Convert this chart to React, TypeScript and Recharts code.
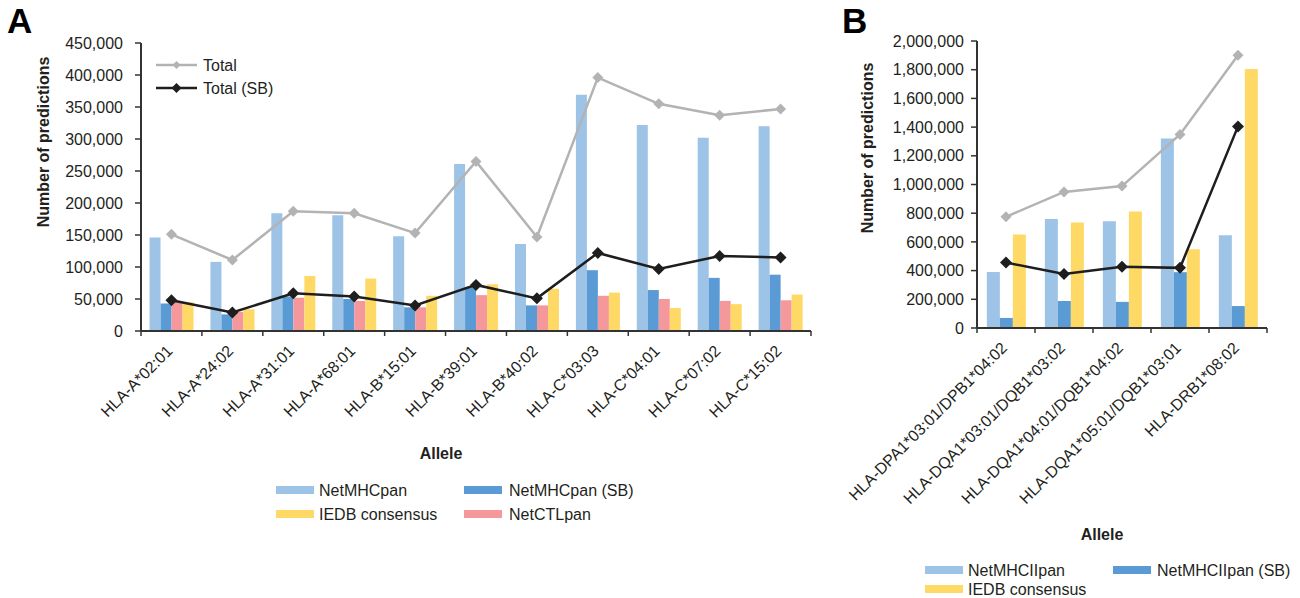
import React from 'react';
import { ComposedChart, Bar, Line, XAxis, YAxis, Legend, Label } from 'recharts';

// ---------- Panel A data ----------
const allelesA = ['HLA-A*02:01', 'HLA-A*24:02', 'HLA-A*31:01', 'HLA-A*68:01', 'HLA-B*15:01', 'HLA-B*39:01', 'HLA-B*40:02', 'HLA-C*03:03', 'HLA-C*04:01', 'HLA-C*07:02', 'HLA-C*15:02'];
const netMHCpanA = [146000, 108000, 184000, 181000, 148000, 261000, 136000, 369000, 322000, 302000, 320000];
const netMHCpanSBA = [43000, 26000, 54000, 50000, 37000, 69000, 40000, 95000, 64000, 83000, 88000];
const netCTLpanA = [46000, 30000, 52000, 47000, 37000, 56000, 40000, 55000, 50000, 47000, 48000];
const iedbA = [45000, 34000, 86000, 82000, 55000, 73000, 66000, 60000, 36000, 42000, 57000];
const totalA = [151000, 111000, 187000, 184000, 153000, 265000, 147000, 396000, 355000, 337000, 347000];
const totalSBA = [48000, 29000, 59000, 54000, 40000, 72000, 51000, 122000, 97000, 117000, 115000];
const yTicksA = [0, 50000, 100000, 150000, 200000, 250000, 300000, 350000, 400000, 450000];

// ---------- Panel B data ----------
const allelesB = ['HLA-DPA1*03:01/DPB1*04:02', 'HLA-DQA1*03:01/DQB1*03:02', 'HLA-DQA1*04:01/DQB1*04:02', 'HLA-DQA1*05:01/DQB1*03:01', 'HLA-DRB1*08:02'];
const netMHCIIpanB = [390000, 760000, 744000, 1320000, 647000];
const netMHCIIpanSBB = [70000, 188000, 182000, 389000, 153000];
const iedbB = [651000, 735000, 812000, 549000, 1805000];
const totalB = [775000, 948000, 989000, 1349000, 1900000];
const totalSBB = [456000, 377000, 426000, 419000, 1405000];
const yTicksB = [0, 200000, 400000, 600000, 800000, 1000000, 1200000, 1400000, 1600000, 1800000, 2000000];

const dataA = allelesA.map((a, i) => ({
  allele: a,
  netMHCpan: netMHCpanA[i],
  netMHCpanSB: netMHCpanSBA[i],
  netCTLpan: netCTLpanA[i],
  iedb: iedbA[i],
  total: totalA[i],
  totalSB: totalSBA[i],
}));

const dataB = allelesB.map((a, i) => ({
  allele: a,
  netMHCIIpan: netMHCIIpanB[i],
  netMHCIIpanSB: netMHCIIpanSBB[i],
  iedb: iedbB[i],
  total: totalB[i],
  totalSB: totalSBB[i],
}));

const FONT = '"Liberation Sans", Arial, Helvetica, sans-serif';
const TXT = '#231f20';
const C_LIGHT = '#9DC3E6';
const C_MID = '#5B9BD5';
const C_PINK = '#F4989C';
const C_YELLOW = '#FFD966';
const C_GREY = '#B3B3B3';
const C_BLACK = '#1E1E1E';
const AXIS = '#333333';

const fmt = (v: number) => v.toLocaleString('en-US');

const diamond = (r: number, fill: string) => (props: any) => {
  const { cx, cy, index } = props;
  if (cx == null || cy == null) return <g key={index} />;
  return (
    <polygon
      key={index}
      points={`${cx},${cy - r} ${cx + r},${cy} ${cx},${cy + r} ${cx - r},${cy}`}
      fill={fill}
    />
  );
};

const makeXTick = (band: number, n: number) => (props: any) => {
  const { x, y, payload, index } = props;
  const tx = x + 2;
  const ty = y + 21;
  return (
    <g>
      <line x1={x - band / 2} x2={x - band / 2} y1={y} y2={y + 5} stroke={AXIS} strokeWidth={1.5} />
      {index === n - 1 && (
        <line x1={x + band / 2} x2={x + band / 2} y1={y} y2={y + 5} stroke={AXIS} strokeWidth={1.5} />
      )}
      <text
        x={tx}
        y={ty}
        textAnchor="end"
        transform={`rotate(-45, ${tx}, ${ty})`}
        fontSize={16}
        fontFamily={FONT}
        fill={TXT}
      >
        {payload.value}
      </text>
    </g>
  );
};

const yTickStyle = { fontSize: 16, fontFamily: FONT, fill: TXT };

const axisTitle = (dx: number, dy: number, rotate: boolean) => (props: any) => {
  const vb = props.viewBox || {};
  const cx = (vb.x || 0) + dx;
  const cy = (vb.y || 0) + dy;
  return (
    <text
      x={cx}
      y={cy}
      textAnchor="middle"
      dominantBaseline="central"
      transform={rotate ? `rotate(-90, ${cx}, ${cy})` : undefined}
      fontSize={16}
      fontWeight="bold"
      fontFamily={FONT}
      fill={TXT}
    >
      {props.value}
    </text>
  );
};

type Item = { label: string; color: string; x: number; tx: number; y: number };

const barLegendItems = (items: Item[]) =>
  items.map((it) => (
    <g key={it.label}>
      <rect x={it.x} y={it.y - 4} width={38} height={8} fill={it.color} />
      <text x={it.tx} y={it.y} dominantBaseline="central" fontSize={16} fontFamily={FONT} fill={TXT}>
        {it.label}
      </text>
    </g>
  ));

const legendWrapper = { left: 0, top: 0, right: 'auto', bottom: 'auto', width: 0, height: 0, overflow: 'visible' } as any;

const LegendA = () => (
  <svg width={1} height={1} style={{ position: 'absolute', left: 0, top: 0, overflow: 'visible' }}>
    <line x1={156} x2={197} y1={65} y2={65} stroke={C_GREY} strokeWidth={2.5} />
    <polygon points="176.5,61 180.5,65 176.5,69 172.5,65" fill={C_GREY} />
    <text x={203} y={65} dominantBaseline="central" fontSize={16} fontFamily={FONT} fill={TXT}>Total</text>
    <line x1={156} x2={197} y1={88} y2={88} stroke={C_BLACK} strokeWidth={2.5} />
    <polygon points="176.5,83 181.5,88 176.5,93 171.5,88" fill={C_BLACK} />
    <text x={203} y={88} dominantBaseline="central" fontSize={16} fontFamily={FONT} fill={TXT}>Total (SB)</text>
    {barLegendItems([
      { label: 'NetMHCpan', color: C_LIGHT, x: 276, tx: 319, y: 490 },
      { label: 'NetMHCpan (SB)', color: C_MID, x: 464, tx: 509, y: 490 },
      { label: 'IEDB consensus', color: C_YELLOW, x: 276, tx: 319, y: 514 },
      { label: 'NetCTLpan', color: C_PINK, x: 464, tx: 509, y: 514 },
    ])}
  </svg>
);

// Panel B chart starts at page x = 800
const BX = 800;

const LegendB = () => (
  <svg width={1} height={1} style={{ position: 'absolute', left: 0, top: 0, overflow: 'visible' }}>
    {barLegendItems([
      { label: 'NetMHCIIpan', color: C_LIGHT, x: 925 - BX, tx: 968 - BX, y: 570 },
      { label: 'NetMHCIIpan (SB)', color: C_MID, x: 1113 - BX, tx: 1157 - BX, y: 570 },
      { label: 'IEDB consensus', color: C_YELLOW, x: 925 - BX, tx: 968 - BX, y: 589 },
    ])}
  </svg>
);

const ChartA = () => {
  const W = 860;
  const left = 141;
  const right = 49;
  const band = (W - left - right) / allelesA.length;
  return (
    <ComposedChart
      width={W}
      height={598}
      data={dataA}
      margin={{ top: 43, right, left: 0, bottom: 0 }}
      barGap={0}
      barCategoryGap="14%"
    >
      <XAxis
        dataKey="allele"
        height={267}
        interval={0}
        tickSize={0}
        tickMargin={0}
        tickLine={false}
        tick={makeXTick(band, allelesA.length)}
        axisLine={{ stroke: AXIS, strokeWidth: 2 }}
      >
        <Label value="Allele" content={axisTitle(300, 122, false)} />
      </XAxis>
      <XAxis xAxisId="top" dataKey="allele" orientation="top" height={0} tick={false} tickLine={false} axisLine={{ stroke: '#555', strokeWidth: 1.5 }} />
      <YAxis
        width={left}
        domain={[0, 450000]}
        ticks={yTicksA}
        interval={0}
        tickFormatter={fmt}
        tickSize={6}
        tickMargin={12}
        tick={yTickStyle}
        tickLine={{ stroke: AXIS, strokeWidth: 1.5 }}
        axisLine={{ stroke: AXIS, strokeWidth: 2 }}
      >
        <Label value="Number of predictions" content={axisTitle(43, 99, true)} />
      </YAxis>
      <YAxis yAxisId="right" orientation="right" width={0} domain={[0, 1]} tick={false} tickLine={false} axisLine={{ stroke: '#555', strokeWidth: 1.5 }} />
      <Legend content={LegendA} wrapperStyle={legendWrapper} />
      <Bar dataKey="netMHCpan" fill={C_LIGHT} isAnimationActive={false} />
      <Bar dataKey="netMHCpanSB" fill={C_MID} isAnimationActive={false} />
      <Bar dataKey="netCTLpan" fill={C_PINK} isAnimationActive={false} />
      <Bar dataKey="iedb" fill={C_YELLOW} isAnimationActive={false} />
      <Line dataKey="total" stroke={C_GREY} strokeWidth={2.5} dot={diamond(5.5, C_GREY)} activeDot={false} isAnimationActive={false} />
      <Line dataKey="totalSB" stroke={C_BLACK} strokeWidth={2.5} dot={diamond(6, C_BLACK)} activeDot={false} isAnimationActive={false} />
    </ComposedChart>
  );
};

const ChartB = () => {
  const W = 1300 - BX;
  const left = 977 - BX;
  const right = 33;
  const band = (W - left - right) / allelesB.length;
  return (
    <ComposedChart
      width={W}
      height={598}
      data={dataB}
      margin={{ top: 41, right, left: 0, bottom: 0 }}
      barGap={0}
      barCategoryGap="17%"
    >
      <XAxis
        dataKey="allele"
        height={270}
        interval={0}
        tickSize={0}
        tickMargin={0}
        tickLine={false}
        tick={makeXTick(band, allelesB.length)}
        axisLine={{ stroke: AXIS, strokeWidth: 2 }}
      >
        <Label value="Allele" content={axisTitle(125, 206, false)} />
      </XAxis>
      <XAxis xAxisId="top" dataKey="allele" orientation="top" height={0} tick={false} tickLine={false} axisLine={{ stroke: '#555', strokeWidth: 1.5 }} />
      <YAxis
        width={left}
        domain={[0, 2000000]}
        ticks={yTicksB}
        interval={0}
        tickFormatter={fmt}
        tickSize={6}
        tickMargin={7}
        tick={yTickStyle}
        tickLine={{ stroke: AXIS, strokeWidth: 1.5 }}
        axisLine={{ stroke: AXIS, strokeWidth: 2 }}
      >
        <Label value="Number of predictions" content={axisTitle(867 - BX, 107, true)} />
      </YAxis>
      <YAxis yAxisId="right" orientation="right" width={0} domain={[0, 1]} tick={false} tickLine={false} axisLine={{ stroke: '#555', strokeWidth: 1.5 }} />
      <Legend content={LegendB} wrapperStyle={legendWrapper} />
      <Bar dataKey="netMHCIIpan" fill={C_LIGHT} isAnimationActive={false} />
      <Bar dataKey="netMHCIIpanSB" fill={C_MID} isAnimationActive={false} />
      <Bar dataKey="iedb" fill={C_YELLOW} isAnimationActive={false} />
      <Line dataKey="total" stroke={C_GREY} strokeWidth={2.5} dot={diamond(5.5, C_GREY)} activeDot={false} isAnimationActive={false} />
      <Line dataKey="totalSB" stroke={C_BLACK} strokeWidth={2.5} dot={diamond(6, C_BLACK)} activeDot={false} isAnimationActive={false} />
    </ComposedChart>
  );
};

export default function App() {
  return (
    <div style={{ position: 'fixed', left: 0, top: 0, width: 1300, height: 598, background: '#fff', overflow: 'hidden' }}>
      <div style={{ position: 'absolute', left: 0, top: 0 }}>
        <ChartA />
      </div>
      <div style={{ position: 'absolute', left: BX, top: 0 }}>
        <ChartB />
      </div>
      <svg width={1300} height={598} style={{ position: 'absolute', left: 0, top: 0, pointerEvents: 'none' }}>
        <text x={7} y={33} fontSize={35} fontWeight="bold" fontFamily={FONT} fill="#000">A</text>
        <text x={842} y={33} fontSize={35} fontWeight="bold" fontFamily={FONT} fill="#000">B</text>
      </svg>
    </div>
  );
}
